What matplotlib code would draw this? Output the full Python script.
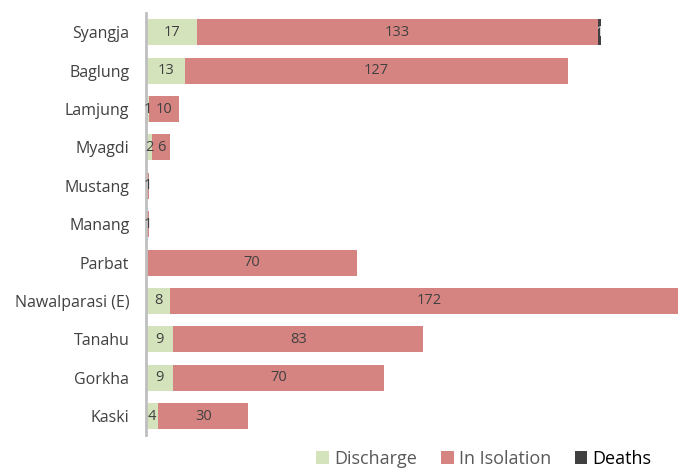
import matplotlib.pyplot as plt
import numpy as np

# Data
districts = ['Syangja', 'Baglung', 'Lamjung', 'Myagdi', 'Mustang', 'Manang',
             'Parbat', 'Nawalparasi (E)', 'Tanahu', 'Gorkha', 'Kaski']
discharge = [17, 13, 1, 2, 0, 0, 0, 8, 9, 9, 4]
isolation = [133, 127, 10, 6, 1, 1, 70, 172, 83, 70, 30]
deaths = [1, 0, 0, 0, 0, 0, 0, 0, 0, 0, 0]

colors = {'Discharge': '#d5e3bc', 'In Isolation': '#d58482', 'Deaths': '#404040'}

plt.rcParams['font.family'] = ['Open Sans', 'DejaVu Sans']

fig = plt.figure(figsize=(6.78, 4.68), dpi=100)
ax = fig.add_axes([146 / 678, 0.07, 1 - 146 / 678, 0.902])

y = np.arange(len(districts))
h = 0.68

left = np.zeros(len(districts))
for name, vals in [('Discharge', discharge), ('In Isolation', isolation), ('Deaths', deaths)]:
    vals = np.array(vals)
    bars = ax.barh(y, vals, left=left, height=h, color=colors[name], label=name)
    txt_color = '#d9d9d9' if name == 'Deaths' else '#404040'
    for b, v, l in zip(bars, vals, left):
        if v > 0:
            ax.text(l + v / 2, b.get_y() + h / 2, str(v), ha='center', va='center',
                    fontsize=10.5, color=txt_color)
    left = left + vals

ax.set_yticks(y)
ax.set_yticklabels(districts, fontsize=11.5, color='#404040')
ax.set_ylim(len(districts) - 0.5, -0.5)
ax.set_xlim(0, 532 / 3.013)
ax.tick_params(axis='y', length=0, pad=12)
ax.set_xticks([])
for s in ['top', 'right', 'bottom']:
    ax.spines[s].set_visible(False)
ax.spines['left'].set_color('#bfbfbf')
ax.spines['left'].set_linewidth(2)

leg = fig.legend(loc='lower center', bbox_to_anchor=(0.714, -0.035), ncol=3, frameon=False,
                 fontsize=13, handlelength=0.7, handleheight=0.7, handletextpad=0.3,
                 columnspacing=1.3)
for t in leg.get_texts():
    t.set_color('#595959')
leg.get_texts()[2].set_color('black')

fig.savefig('out.png', dpi=100)
